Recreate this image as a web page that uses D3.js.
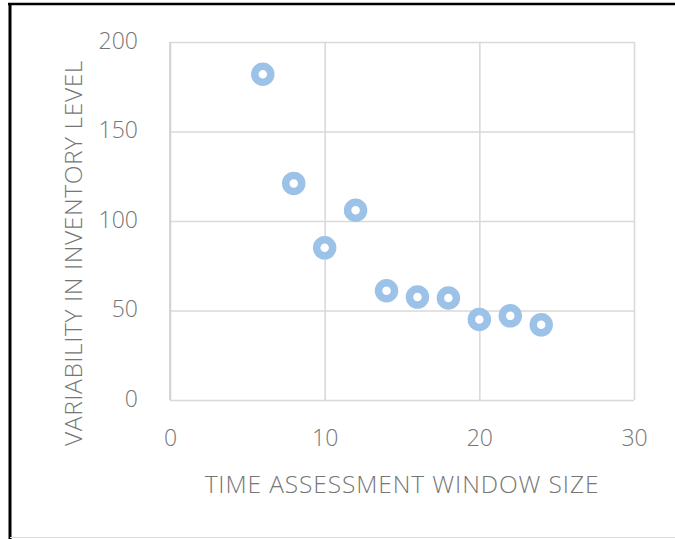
<!DOCTYPE html>
<html><head><meta charset="utf-8">
<script src="https://cdn.jsdelivr.net/npm/d3@7"></script>
<style>
html,body{margin:0;padding:0;background:#fff;}
svg{display:block;}
</style></head>
<body>
<svg id="chart" width="675" height="539"></svg>
<script>
const windowSize = [6, 8, 10, 12, 14, 16, 18, 20, 22, 24];
const variability = [182, 121, 85, 106, 61, 57.5, 57, 45, 47, 42];
const xTicks = [0, 10, 20, 30];
const yTicks = [0, 50, 100, 150, 200];
const xTitle = "TIME ASSESSMENT WINDOW SIZE";
const yTitle = "VARIABILITY IN INVENTORY LEVEL";

(function () {
const svg = d3.select("#chart");
const font = "'Open Sans', 'Liberation Sans', sans-serif";
const textCol = "#767676";
const pLeft = 170, pRight = 634, pTop = 42, pBottom = 400;

// outer frame
svg.append("rect").attr("x", 0).attr("y", 0).attr("width", 675).attr("height", 539).attr("fill", "#fff");
svg.append("line").attr("x1", 8).attr("x2", 675).attr("y1", 4).attr("y2", 4).attr("stroke", "#000").attr("stroke-width", 2.5);
svg.append("line").attr("x1", 10).attr("x2", 10).attr("y1", 3).attr("y2", 539).attr("stroke", "#000").attr("stroke-width", 3);
svg.append("line").attr("x1", 10).attr("x2", 675).attr("y1", 537.5).attr("y2", 537.5).attr("stroke", "#ddd").attr("stroke-width", 1);

const x = d3.scaleLinear().domain([0, 30]).range([pLeft, pRight]);
const y = d3.scaleLinear().domain([0, 200]).range([pBottom, pTop]);

// gridlines
const gx = svg.append("g").attr("transform", `translate(0,${pBottom})`)
  .call(d3.axisBottom(x).tickValues(xTicks).tickSize(-(pBottom - pTop)).tickFormat(""));
gx.select(".domain").remove();
gx.selectAll("line").attr("stroke", "#d9d9d9").attr("stroke-width", 1.6);

const gy = svg.append("g").attr("transform", `translate(${pLeft},0)`)
  .call(d3.axisLeft(y).tickValues(yTicks).tickSize(-(pRight - pLeft)).tickFormat(""));
gy.select(".domain").remove();
gy.selectAll("line").attr("stroke", "#d9d9d9").attr("stroke-width", 1.6);

// axis labels
const ax = svg.append("g").attr("transform", `translate(0,${pBottom})`)
  .call(d3.axisBottom(x).tickValues(xTicks).tickSize(0).tickFormat(d3.format("d")));
ax.select(".domain").remove();
ax.selectAll("text").attr("font-family", font).attr("font-size", 23).attr("font-weight", 300)
  .attr("fill", textCol).attr("y", 46).attr("dy", 0);

const ay = svg.append("g").attr("transform", `translate(${pLeft},0)`)
  .call(d3.axisLeft(y).tickValues(yTicks).tickSize(0).tickFormat(d3.format("d")));
ay.select(".domain").remove();
ay.selectAll("text").attr("font-family", font).attr("font-size", 23).attr("font-weight", 300)
  .attr("fill", textCol).attr("x", -32).attr("y", 6).attr("dy", 0);

// left axis line
svg.append("line").attr("x1", pLeft).attr("x2", pLeft).attr("y1", pTop).attr("y2", pBottom).attr("stroke", "#d0d0d0").attr("stroke-width", 1.6);

// titles
svg.append("text").attr("x", 402).attr("y", 493).attr("text-anchor", "middle")
  .attr("font-family", font).attr("font-size", 24.5).attr("font-weight", 300).attr("letter-spacing", 0.9)
  .attr("fill", textCol).text(xTitle);
svg.append("text").attr("transform", "translate(82,253) rotate(-90)").attr("text-anchor", "middle")
  .attr("font-family", font).attr("font-size", 24.5).attr("font-weight", 300).attr("letter-spacing", 0.6)
  .attr("fill", textCol).text(yTitle);

// points
svg.append("g").selectAll("circle").data(windowSize.map((d, i) => [d, variability[i]]))
  .join("circle")
  .attr("cx", d => x(d[0])).attr("cy", d => y(d[1])).attr("r", 8)
  .attr("fill", "#fff").attr("stroke", "#9cc2e8").attr("stroke-width", 7.5);
})();
</script>
</body></html>
